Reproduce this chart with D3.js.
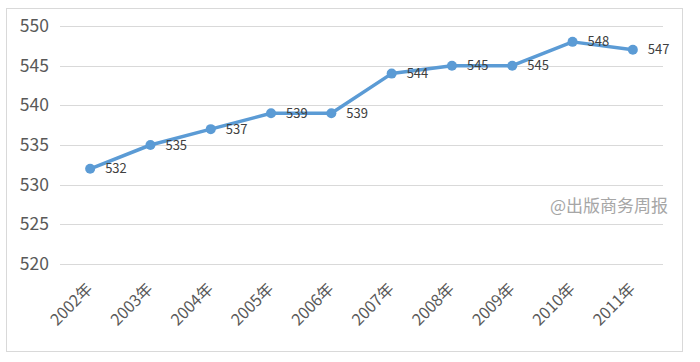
<!DOCTYPE html>
<html>
<head>
<meta charset="utf-8">
<script src="https://cdn.jsdelivr.net/npm/d3@7"></script>
<style>
  body { margin: 0; background: #fff; }
  svg { display: block; }
</style>
</head>
<body>
<svg id="chart" width="700" height="362"></svg>
<script>
// 数据
const years = ['2002年', '2003年', '2004年', '2005年', '2006年', '2007年', '2008年', '2009年', '2010年', '2011年'];
const values = [532, 535, 537, 539, 539, 544, 545, 545, 548, 547];
const yTicks = [520, 525, 530, 535, 540, 545, 550];

const svg = d3.select('#chart');
const font = '"Noto Sans CJK SC", "Open Sans", sans-serif';

// 外框
svg.append('rect')
  .attr('x', 6.5).attr('y', 8.5)
  .attr('width', 676).attr('height', 343)
  .style('fill', '#fff')
  .style('stroke', '#d9d9d9');

const x = d3.scalePoint().domain(years).range([60, 663]).padding(0.5);
const y = d3.scaleLinear().domain([520, 550]).range([264, 26]);

// 网格线
svg.append('g')
  .selectAll('line')
  .data(yTicks)
  .join('line')
  .attr('x1', 60).attr('x2', 663)
  .attr('y1', d => Math.round(y(d)) + 0.5)
  .attr('y2', d => Math.round(y(d)) + 0.5)
  .style('stroke', '#d9d9d9');

// Y 轴
const yAxis = svg.append('g')
  .attr('transform', 'translate(49,0)')
  .call(d3.axisLeft(y).tickValues(yTicks).tickSize(0).tickPadding(0));
yAxis.select('.domain').remove();
yAxis.selectAll('text')
  .style('font-family', font)
  .style('font-size', '17.5px')
  .style('fill', '#595959');

// X 轴
const xAxis = svg.append('g')
  .attr('transform', 'translate(0,270)')
  .call(d3.axisBottom(x).tickSize(0).tickPadding(0));
xAxis.select('.domain').remove();
xAxis.selectAll('text')
  .attr('text-anchor', 'end')
  .attr('dy', '0.35em')
  .attr('transform', 'translate(-1,16) rotate(-45)')
  .style('font-family', font)
  .style('font-size', '16px')
  .style('fill', '#595959');

// 折线
const line = d3.line()
  .x((d, i) => x(years[i]))
  .y(d => y(d));

svg.append('path')
  .datum(values)
  .attr('d', line)
  .style('fill', 'none')
  .style('stroke', '#5b9bd5')
  .style('stroke-width', 3.5)
  .style('stroke-linejoin', 'round');

svg.append('g')
  .selectAll('circle')
  .data(values)
  .join('circle')
  .attr('cx', (d, i) => x(years[i]))
  .attr('cy', d => y(d))
  .attr('r', 5)
  .style('fill', '#5b9bd5');

// 数据标签
svg.append('g')
  .selectAll('text')
  .data(values)
  .join('text')
  .attr('x', (d, i) => x(years[i]) + 15)
  .attr('y', d => y(d))
  .attr('dy', '0.35em')
  .style('font-family', font)
  .style('font-size', '13px')
  .style('fill', '#404040')
  .text(d => d);

// 水印
svg.append('text')
  .attr('x', 668)
  .attr('y', 206)
  .attr('dy', '0.35em')
  .attr('text-anchor', 'end')
  .style('font-family', font)
  .style('font-size', '17px')
  .style('fill', '#a6a6a6')
  .text('@出版商务周报');
</script>
</body>
</html>
